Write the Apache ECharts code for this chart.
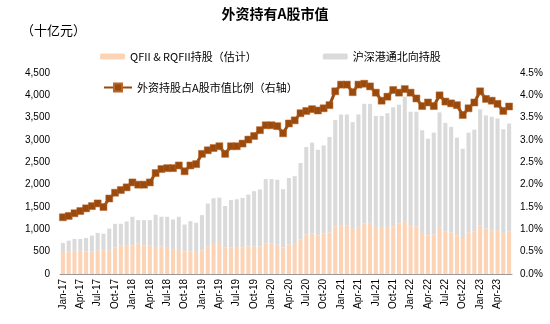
<!DOCTYPE html>
<html><head><meta charset="utf-8">
<script src="https://cdn.jsdelivr.net/npm/echarts@6/dist/echarts.min.js"></script>
<style>html,body{margin:0;padding:0;background:#fff}#c{width:550px;height:324px}</style>
</head><body><div id="c"></div>
<script>
var months = [];
var monNames = ['Jan','Feb','Mar','Apr','May','Jun','Jul','Aug','Sep','Oct','Nov','Dec'];
for (var y = 17; y <= 23; y++) { for (var m = 0; m < 12; m++) { if (y === 23 && m > 5) break; months.push(monNames[m] + '-' + y); } }

var qfii = [490,504,520,520,504,504,520,558,520,595,633,633,640,678,640,640,603,617,603,555,
558,505,505,490,527,617,671,671,595,595,603,595,617,617,617,678,678,656,595,660,
675,770,882,904,866,904,934,1070,1093,1093,1010,1055,1130,1146,1055,1048,1033,1070,1130,1183,
1070,1070,919,859,882,1055,957,934,859,806,934,957,1093,1017,980,980,904,957];

var northbound = [204,242,265,265,303,355,400,346,497,529,491,543,642,528,566,566,724,665,679,666,
724,603,678,656,791,959,1025,1040,927,1063,1070,1108,1162,1237,1275,1447,1447,1454,1304,1488,
1515,1715,1960,2035,1915,1974,2134,2380,2479,2479,2390,2517,2680,2664,2485,2492,2567,2661,2660,2787,
2563,2563,2299,2171,2283,2563,2427,2360,2193,1998,2231,2276,2592,2533,2540,2502,2336,2412];

var ratio = [1.27,1.30,1.36,1.41,1.47,1.52,1.58,1.50,1.69,1.82,1.88,1.94,2.05,2.00,2.00,2.05,2.26,2.35,2.37,2.37,
2.43,2.30,2.43,2.46,2.69,2.77,2.82,2.86,2.69,2.86,2.86,2.92,3.01,3.09,3.22,3.33,3.33,3.31,3.15,3.37,
3.44,3.60,3.65,3.69,3.66,3.71,3.78,4.09,4.24,4.24,4.07,4.24,4.26,4.20,4.06,3.88,3.97,4.12,4.06,4.14,
4.06,3.93,3.76,3.84,3.76,4.00,3.86,3.82,3.78,3.56,3.71,3.84,4.09,3.92,3.88,3.81,3.65,3.75];

var FONT = '"Liberation Sans", "Noto Sans CJK SC", sans-serif';
var CJK = '"Noto Sans CJK SC", sans-serif';
var chart = echarts.init(document.getElementById('c'), null, {renderer: 'canvas'});
chart.setOption({
  animation: false,
  backgroundColor: '#fff',
  title: [
    {text: '外资持有A股市值', left: 'center', top: 2, textStyle: {fontSize: 14, fontWeight: 'bold', color: '#000', fontFamily: CJK}},
    {text: '（十亿元）', left: 16, top: 19, textStyle: {fontSize: 13, fontWeight: 'normal', color: '#000', fontFamily: CJK}}
  ],
  legend: [
    {data: ['QFII & RQFII持股（估计）', '沪深港通北向持股'], left: 95, top: 46, itemWidth: 25, itemHeight: 6, itemGap: 66,
     textStyle: {fontSize: 11, color: '#000', fontFamily: CJK}},
    {data: ['外资持股占A股市值比例（右轴）'], left: 98, top: 77, itemWidth: 28, itemHeight: 10,
     textStyle: {fontSize: 11, color: '#000', fontFamily: CJK}}
  ],
  grid: {left: 60, right: 38, top: 73, bottom: 50, containLabel: false},
  xAxis: {
    type: 'category', data: months, boundaryGap: true,
    axisLine: {lineStyle: {color: '#999', width: 1}},
    axisTick: {interval: 2, alignWithLabel: true, length: 3, lineStyle: {color: '#999'}},
    axisLabel: {interval: 2, rotate: 90, fontSize: 10, color: '#000', fontFamily: FONT, margin: 5}
  },
  yAxis: [
    {type: 'value', min: 0, max: 4500, interval: 500, splitLine: {show: false},
     axisLine: {show: false}, axisTick: {show: false},
     axisLabel: {fontSize: 10, color: '#000', fontFamily: FONT, margin: 10,
       formatter: function (v) { return v.toLocaleString('en-US'); }}},
    {type: 'value', min: 0, max: 4.5, interval: 0.5, splitLine: {show: false},
     axisLine: {show: false}, axisTick: {show: false},
     axisLabel: {fontSize: 10, color: '#000', fontFamily: FONT, margin: 8,
       formatter: function (v) { return v.toFixed(1) + '%'; }}}
  ],
  series: [
    {name: 'QFII & RQFII持股（估计）', type: 'bar', stack: 'a', data: qfii, barCategoryGap: '30%',
     itemStyle: {color: '#FDD3B5'}},
    {name: '沪深港通北向持股', type: 'bar', stack: 'a', data: northbound,
     itemStyle: {color: '#DADADA'}},
    {name: '外资持股占A股市值比例（右轴）', type: 'line', yAxisIndex: 1, data: ratio,
     symbol: 'rect', symbolSize: 7, showSymbol: true, showAllSymbol: true,
     lineStyle: {color: '#9A4A0C', width: 3}, itemStyle: {color: '#9A4A0C', borderColor: '#B8662A', borderWidth: 0.5}}
  ]
});
</script></body></html>
